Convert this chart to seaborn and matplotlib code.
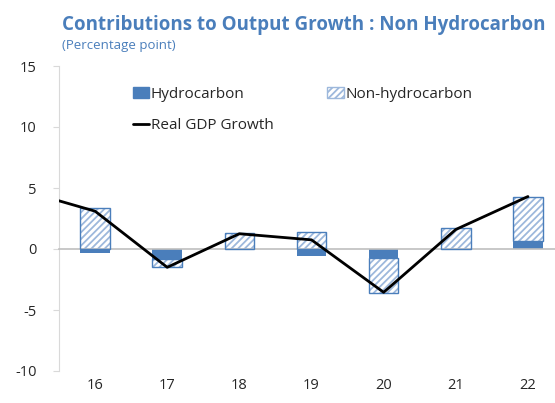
import matplotlib.pyplot as plt
import seaborn as sns
import pandas as pd
import numpy as np
from matplotlib.patches import Patch
from matplotlib.lines import Line2D

years = ['16', '17', '18', '19', '20', '21', '22']
hydrocarbon = [-0.35, -0.85, -0.1, -0.6, -0.77, -0.08, 0.65]
non_hydrocarbon = [3.4, -0.65, 1.35, 1.37, -2.8, 1.7, 3.6]
# GDP line also has the 2015 point, which sits left of the visible axis
gdp_years = ['15', '16', '17', '18', '19', '20', '21', '22']
gdp_growth = [4.8, 3.1, -1.5, 1.25, 0.75, -3.55, 1.6, 4.3]

blue = '#4A7EBB'
hatch_blue = '#9DB8DC'
title_blue = '#4A7EBB'

sns.set_style('white')
plt.rcParams['font.family'] = ['Open Sans', 'DejaVu Sans']
plt.rcParams['hatch.linewidth'] = 1.3
plt.rcParams['axes.unicode_minus'] = False

fig = plt.figure(figsize=(5.55, 4.03), dpi=100)
ax = fig.add_axes([59 / 555, 32 / 403, 505 / 555, 305 / 403])

pos = np.arange(len(years))
hyd = np.array(hydrocarbon)
non = np.array(non_hydrocarbon)
bottom = np.where(np.sign(hyd) == np.sign(non), hyd, 0)
width = 0.41

ax.bar(pos, hyd, width=width, color=blue, linewidth=0, zorder=2)
plt.rcParams['hatch.color'] = hatch_blue
ax.bar(pos, non, bottom=bottom, width=width, color='white',
       edgecolor=hatch_blue, hatch='/////', linewidth=0, zorder=2)
ax.bar(pos, non, bottom=bottom, width=width, fill=False,
       edgecolor=blue, linewidth=1.0, zorder=3)

df = pd.DataFrame({'x': np.arange(-1, len(years)), 'gdp': gdp_growth})
sns.lineplot(data=df, x='x', y='gdp', ax=ax, color='black', linewidth=2.0,
             zorder=4, legend=False)

ax.set_xlim(-0.5, len(years) - 0.5)
ax.set_ylim(-10, 15)
ax.set_yticks([-10, -5, 0, 5, 10, 15])
ax.set_ylabel('')
ax.set_xlabel('')

for s in ['top', 'right']:
    ax.spines[s].set_visible(False)
ax.spines['left'].set_color('#D9D9D9')
ax.spines['bottom'].set_position(('data', 0))
ax.spines['bottom'].set_color('#BFBFBF')
ax.spines['bottom'].set_linewidth(1.2)
ax.set_xticks(pos)
ax.set_xticks(pos[:-1] + 0.5, minor=True)
ax.tick_params(axis='x', which='major', length=0, labelbottom=False)
ax.tick_params(axis='x', which='minor', direction='in', length=5,
               color='#BFBFBF', width=1)
ax.tick_params(axis='y', direction='out', length=4, color='#D9D9D9',
               left=True, labelsize=10.5, pad=12)

sec = ax.secondary_xaxis(0)
sec.set_xticks(pos)
sec.set_xticklabels(years)
sec.tick_params(length=0, labelsize=10.5, pad=5)
sec.spines['bottom'].set_visible(False)

h1 = Patch(facecolor=blue, edgecolor=blue, label='Hydrocarbon')
h2 = Patch(facecolor='white', edgecolor=hatch_blue, hatch='/////',
           label='Non-hydrocarbon')
h3 = Line2D([0], [0], color='black', linewidth=2, label='Real GDP Growth')
fig.legend(handles=[h1, h3, h2], ncol=2, frameon=False, fontsize=11,
           loc='upper left', bbox_to_anchor=(125 / 555, 1 - 79 / 403),
           handlelength=1.1, handleheight=0.7, handletextpad=0.1,
           columnspacing=3.5, labelspacing=1.1, borderpad=0)

fig.text(62 / 555, 1 - 30 / 403, 'Contributions to Output Growth : Non Hydrocarbon',
         color=title_blue, fontsize=13.5, fontweight='bold', va='baseline')
fig.text(62 / 555, 1 - 45 / 403, '(Percentage point)', color=title_blue,
         fontsize=9.5, va='center')

fig.savefig('out.png', dpi=100)
